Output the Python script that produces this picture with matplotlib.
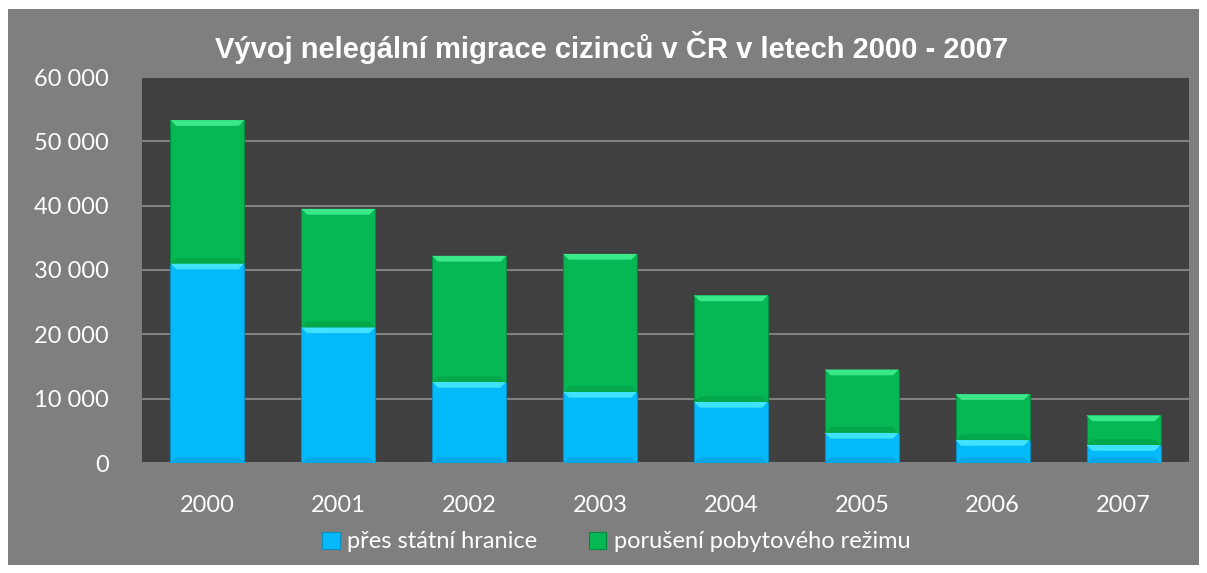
import numpy as np
import matplotlib.pyplot as plt
from matplotlib.patches import Rectangle, Polygon
from matplotlib.ticker import FuncFormatter

# data
years = ["2000", "2001", "2002", "2003", "2004", "2005", "2006", "2007"]
border = [31000, 21100, 12600, 11050, 9500, 4700, 3570, 2800]      # přes státní hranice
residence = [22300, 18400, 19600, 21450, 16550, 9830, 7130, 4600]   # porušení pobytového režimu

blue, blue_lt, blue_dk = "#05bafb", "#3fe3ff", "#06a8e6"
green, green_lt, green_dk = "#05b853", "#3ae88a", "#04a84b"

plt.rcParams['font.family'] = ['Lato', 'DejaVu Sans']

fig = plt.figure(figsize=(12.07, 5.73), dpi=100, facecolor="white")
W, H = 1207, 573
fig.patches.append(Rectangle((8 / W, 8 / H), 1191 / W, 556 / H, transform=fig.transFigure,
                             facecolor="#7f7f7f", edgecolor="none", zorder=-5))

ax = fig.add_axes([142 / W, (H - 463) / H, (1189 - 142) / W, (463 - 77) / H])
ax.set_facecolor("#404040")

x = np.arange(len(years))
w = 0.566
b1 = ax.bar(x, border, w, color=blue, edgecolor="#0a8fc0", linewidth=0.8, zorder=3,
            label="přes státní hranice")
b2 = ax.bar(x, residence, w, bottom=border, color=green, edgecolor="#038a3e", linewidth=0.8,
            zorder=3, label="porušení pobytového režimu")


# bevel look: light top strip, dark bottom strip on each segment
def bevel(bars, lt, dk):
    dx, dy = 0.045, 900
    for p in bars:
        x0, y0 = p.get_x(), p.get_y()
        x1, y1 = x0 + p.get_width(), y0 + p.get_height()
        ax.add_patch(Polygon([(x0, y1), (x1, y1), (x1 - dx, y1 - dy), (x0 + dx, y1 - dy)],
                             facecolor=lt, edgecolor="none", zorder=4))
        ax.add_patch(Polygon([(x0, y0), (x1, y0), (x1 - dx, y0 + dy), (x0 + dx, y0 + dy)],
                             facecolor=dk, edgecolor="none", zorder=4))


bevel(b1, blue_lt, blue_dk)
bevel(b2, green_lt, green_dk)

ax.set_xlim(-0.5, len(years) - 0.5)
ax.set_ylim(0, 60000)
ax.set_yticks(np.arange(0, 60001, 10000))
ax.yaxis.set_major_formatter(FuncFormatter(lambda v, _: f"{int(v):,}".replace(",", " ")))
ax.set_xticks(x)
ax.set_xticklabels(years)
ax.grid(axis="y", color="#808080", linewidth=1.5, zorder=1)
ax.set_axisbelow(True)
ax.tick_params(axis="y", length=0, pad=24, labelcolor="white", labelsize=17)
ax.tick_params(axis="x", length=0, pad=23, labelcolor="white", labelsize=17)
for s in ax.spines.values():
    s.set_visible(False)

fig.text(612 / W, 1 - 47 / H, "Vývoj nelegální migrace cizinců v ČR v letech 2000 - 2007",
         ha="center", va="center", color="white", fontsize=21, fontweight="bold",
         family="Liberation Sans")

leg = fig.legend(handles=[b1, b2], loc="center", bbox_to_anchor=(616 / W, 1 - 542 / H),
                 ncol=2, frameon=False, fontsize=17, labelcolor="white",
                 handlelength=0.75, handleheight=0.75, handletextpad=0.3, columnspacing=2.2)

fig.savefig("out.png", dpi=100, facecolor=fig.get_facecolor())
